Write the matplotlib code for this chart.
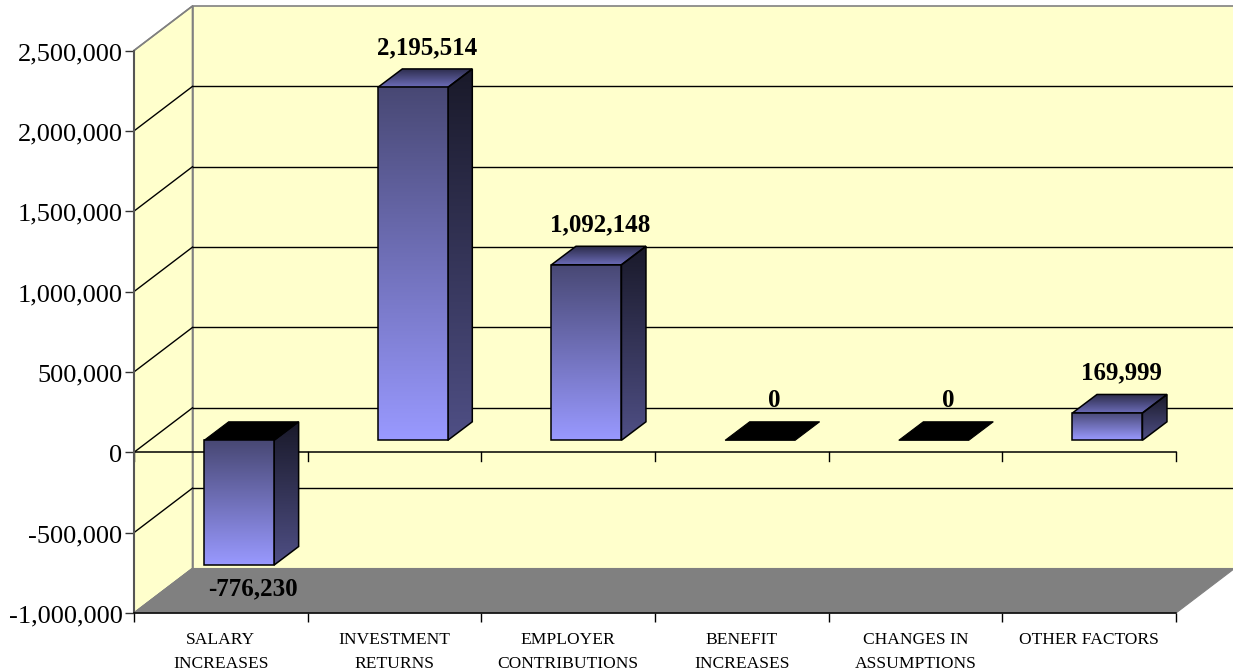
import numpy as np
import matplotlib.pyplot as plt
from matplotlib.colors import LinearSegmentedColormap
from matplotlib.patches import Polygon
from matplotlib.ticker import FuncFormatter
from matplotlib.transforms import ScaledTranslation

categories = [
    "SALARY\nINCREASES",
    "INVESTMENT\nRETURNS",
    "EMPLOYER\nCONTRIBUTIONS",
    "BENEFIT\nINCREASES",
    "CHANGES IN\nASSUMPTIONS",
    "OTHER FACTORS",
]
values = [-776230, 2195514, 1092148, 0, 0, 169999]
y_ticks = [-1000000, -500000, 0, 500000, 1000000, 1500000, 2000000, 2500000]

plt.rcParams["font.family"] = ["Liberation Serif", "DejaVu Serif"]

WIDTH, HEIGHT = 1233, 672
LEFT, RIGHT, TOP, BOTTOM = 134, 1176, 50.5, 613
Y_MIN, Y_MAX = y_ticks[0], y_ticks[-1]

# sizes below are in pixels, these turn them into data units
px_x = len(categories) / (RIGHT - LEFT)
px_y = (Y_MAX - Y_MIN) / (BOTTOM - TOP)


def shift(x, y, dx, dy):
    # dx right, dy up, both in pixels
    return (x + dx * px_x, y + dy * px_y)


front_cmap = LinearSegmentedColormap.from_list("front", ["#484874", "#9999ff"])
side_cmap = LinearSegmentedColormap.from_list("side", ["#191929", "#4f4f85"])
top_cmap = LinearSegmentedColormap.from_list("top", ["#2b2b49", "#6c6cb8"])


def gradient_face(ax, points, cmap, zorder):
    points = np.array(points)
    patch = Polygon(points, closed=True, facecolor="none", edgecolor="black",
                    linewidth=1.1, zorder=zorder + 0.1, clip_on=False)
    ax.add_patch(patch)
    extent = (points[:, 0].min(), points[:, 0].max(),
              points[:, 1].min(), points[:, 1].max())
    grad = np.linspace(0, 1, 256).reshape(-1, 1)
    im = ax.imshow(grad, cmap=cmap, extent=extent, origin="upper", aspect="auto",
                   zorder=zorder, interpolation="bilinear")
    im.set_clip_box(ax.figure.bbox)
    im.set_clip_path(patch)


def draw_bar(ax, i, value, zorder):
    bar_w = 70
    center = i + 0.5
    # front face sits a bit into the depth of the chart
    x0, base = shift(center - 35 * px_x, 0, 18.3, 12)
    x1 = x0 + bar_w * px_x
    top_y = base + max(value, 0)
    low_y = base + min(value, 0)
    ddx, ddy = 24.5, 18.5

    if value != 0:
        gradient_face(ax, [(x0, top_y), (x1, top_y), (x1, low_y), (x0, low_y)],
                      front_cmap, zorder + 0.2)
        gradient_face(ax, [(x1, top_y), shift(x1, top_y, ddx, ddy),
                           shift(x1, low_y, ddx, ddy), (x1, low_y)],
                      side_cmap, zorder)

    top_pts = [(x0, top_y), (x1, top_y), shift(x1, top_y, ddx, ddy),
               shift(x0, top_y, ddx, ddy)]
    if value > 0:
        gradient_face(ax, top_pts, top_cmap, zorder)
    else:
        ax.add_patch(Polygon(top_pts, closed=True, facecolor="black",
                             edgecolor="black", linewidth=0.8,
                             zorder=zorder + 0.1, clip_on=False))

    if value < 0:
        anchor, off = low_y, -24
    else:
        anchor, off = top_y, 40
    ax.annotate(f"{value:,}", xy=(x0 + bar_w * px_x / 2, anchor), xytext=(14, off),
                textcoords="offset pixels", ha="center", va="center",
                fontsize=18, fontweight="bold", color="black", zorder=20,
                annotation_clip=False)


fig = plt.figure(figsize=(WIDTH / 100, HEIGHT / 100), dpi=100)
ax = fig.add_axes([LEFT / WIDTH, (HEIGHT - BOTTOM) / HEIGHT,
                   (RIGHT - LEFT) / WIDTH, (BOTTOM - TOP) / HEIGHT])
ax.patch.set_visible(False)

n = len(categories)
depth_x, depth_y = 58.5, 44.5
wall_right = n + (WIDTH - RIGHT + 5) * px_x
wall = "#ffffcc"
grey = "#808080"

# left wall, back wall, floor
back_left = shift(0, Y_MIN, depth_x, depth_y)
back_top = shift(0, Y_MAX, depth_x, depth_y)
ax.add_patch(Polygon([(0, Y_MIN), (0, Y_MAX), back_top, back_left], closed=True,
                     facecolor=wall, edgecolor=grey, linewidth=1.2, clip_on=False, zorder=1))
ax.add_patch(Polygon([back_left, back_top, (wall_right, back_top[1]), (wall_right, back_left[1])],
                     closed=True, facecolor=wall, edgecolor=grey, linewidth=1.2,
                     clip_on=False, zorder=1))

# grid lines go along the left wall and then along the back wall
for tick in y_ticks:
    bx, by = shift(0, tick, depth_x, depth_y)
    edge = grey if tick in (Y_MIN, Y_MAX) else "black"
    ax.plot([0, bx], [tick, by], color=edge, lw=1.0, clip_on=False, zorder=1.5)
    if tick not in (Y_MIN, Y_MAX):
        ax.plot([bx, wall_right], [by, by], color="black", lw=1.0, clip_on=False, zorder=1.5)

ax.add_patch(Polygon([(0, Y_MIN), back_left, shift(n, Y_MIN, depth_x, depth_y), (n, Y_MIN)],
                     closed=True, facecolor=grey, edgecolor=grey, linewidth=0.8,
                     clip_on=False, zorder=2))

# zero line with its own ticks
ax.plot([0, n], [0, 0], color="black", lw=1.1, clip_on=False, zorder=2.5)
for i in range(n + 1):
    ax.plot([i, i], [0, -9 * px_y], color="black", lw=1.0, clip_on=False, zorder=2.5)

for i, value in enumerate(values):
    draw_bar(ax, i, value, 3 + i)

ax.set_xlim(0, n)
ax.set_ylim(Y_MIN, Y_MAX)
ax.set_yticks(y_ticks)
ax.yaxis.set_major_formatter(FuncFormatter(lambda v, pos: f"{int(v):,}"))
ax.set_xticks(range(n + 1))
ax.set_xticklabels([])
ax.set_xticks(np.arange(n) + 0.5, labels=categories, minor=True)
ax.tick_params(axis="y", length=6.2, width=1.0, labelsize=19, pad=2, color="#333333")
ax.tick_params(axis="x", which="major", length=6.2, width=1.0, color="black")
ax.tick_params(axis="x", which="minor", length=0, labelsize=12.6, pad=14)
for label in ax.get_xticklabels(minor=True):
    label.set_linespacing(1.65)
    label.set_verticalalignment("top")
for label in ax.get_yticklabels():
    label.set_transform(label.get_transform() + ScaledTranslation(0, -1 / 100, fig.dpi_scale_trans))

for name in ("top", "right"):
    ax.spines[name].set_visible(False)
ax.spines["left"].set_color("#555555")
ax.spines["left"].set_linewidth(1.5)
ax.spines["bottom"].set_color("black")
ax.spines["bottom"].set_linewidth(1.1)

fig.savefig("out.png", dpi=100, facecolor="white")
